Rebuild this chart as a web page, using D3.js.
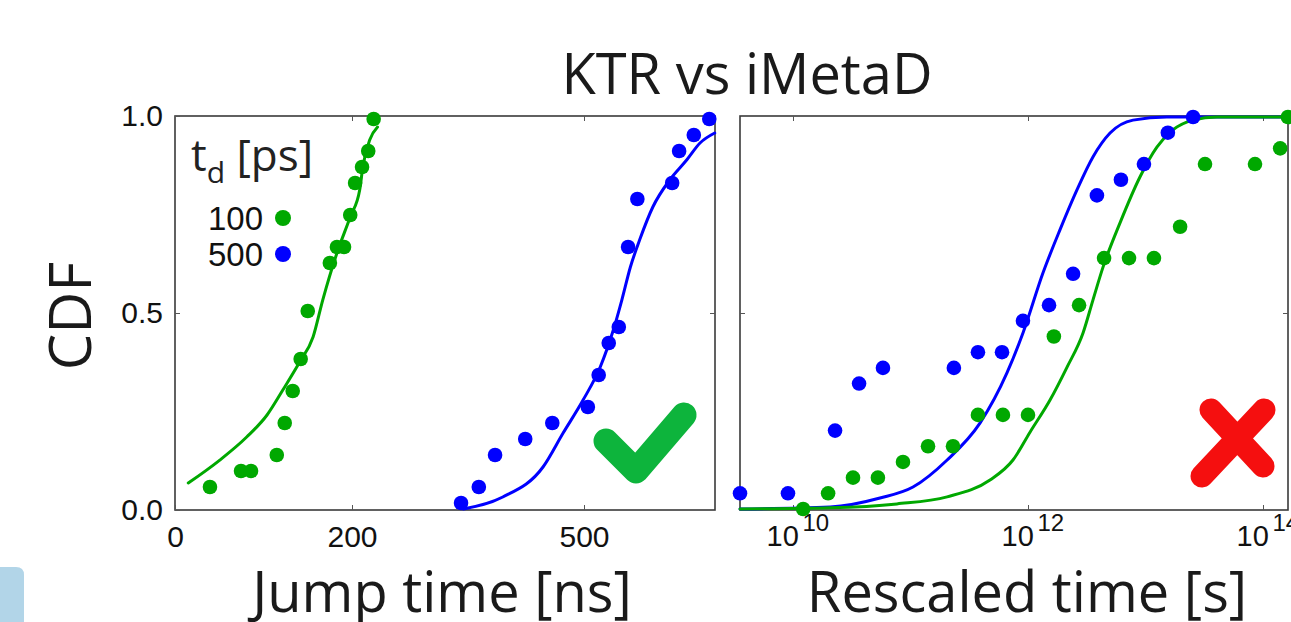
<!DOCTYPE html>
<html>
<head>
<meta charset="utf-8">
<script src="https://cdn.jsdelivr.net/npm/d3@7"></script>
<style>
  body { margin: 0; background: #fff; }
  svg { display: block; }
  .tick text { fill: #111; }
</style>
</head>
<body>
<svg width="1291" height="622"></svg>
<script>
// ---- left panel: jump time [ns] ----
var jumpX100 = [39.5, 74.6, 85.9, 115, 124, 133, 142, 150, 175, 183, 191, 198, 204, 213, 221, 228];
var jumpY100 = [0.08, 0.12, 0.12, 0.16, 0.24, 0.32, 0.40, 0.52, 0.64, 0.68, 0.68, 0.76, 0.84, 0.88, 0.92, 1.0];
var jumpX500 = [341, 364, 385, 424, 459, 505, 519, 532, 545, 557, 569, 614, 623, 642, 662];
var jumpY500 = [0.04, 0.08, 0.16, 0.20, 0.24, 0.28, 0.36, 0.44, 0.48, 0.68, 0.80, 0.84, 0.92, 0.96, 1.0];

var fitJumpX100 = [15, 51, 81, 104, 122, 141, 156, 167, 183, 198, 210, 214, 223, 233];
var fitJumpY100 = [0.09, 0.148, 0.205, 0.26, 0.323, 0.393, 0.455, 0.548, 0.665, 0.755, 0.823, 0.88, 0.948, 0.98];
var fitJumpX500 = [344, 395, 447, 473, 499, 521, 538, 549, 560, 572, 589, 611, 633, 650, 669];
var fitJumpY500 = [0.025, 0.055, 0.13, 0.215, 0.298, 0.38, 0.473, 0.548, 0.63, 0.698, 0.78, 0.848, 0.898, 0.94, 0.965];

// ---- right panel: rescaled time [s] ----
var resX100 = [1.22e10, 1.99e10, 3.24e10, 5.28e10, 8.63e10, 1.41e11, 2.30e11, 3.75e11, 6.12e11, 1.0e12,
               1.66e12, 2.72e12, 4.44e12, 7.24e12, 1.18e13, 1.97e13, 3.21e13, 8.55e13, 1.40e14, 1.63e14];
var resY100 = [0, 0.04, 0.08, 0.08, 0.12, 0.16, 0.16, 0.24, 0.24, 0.24,
               0.44, 0.52, 0.64, 0.64, 0.64, 0.72, 0.88, 0.88, 0.92, 1.0];
var resX500 = [3.54e9, 9.06e9, 2.28e10, 3.65e10, 5.83e10, 2.34e11, 3.75e11, 6.01e11, 9.06e11, 1.51e12,
               2.42e12, 3.86e12, 6.18e12, 9.70e12, 1.55e13, 2.54e13];
var resY500 = [0.04, 0.04, 0.20, 0.32, 0.36, 0.36, 0.40, 0.40, 0.48, 0.52,
               0.60, 0.80, 0.84, 0.88, 0.96, 1.0];

var fitResX100 = [3.54e9, 2.07e10, 7.67e10, 2.05e11, 4.75e11, 7.45e11, 1.04e12, 1.54e12, 2.15e12, 2.94e12,
                  3.57e12, 4.35e12, 6.07e12, 8.97e12, 1.25e13, 1.71e13, 2.54e13, 4.06e13, 1.63e14];
var fitResY100 = [0, 0.003, 0.013, 0.031, 0.074, 0.125, 0.196, 0.278, 0.362, 0.449,
                  0.533, 0.617, 0.730, 0.847, 0.923, 0.967, 0.992, 1.0, 1.0];
var fitResX500 = [3.54e9, 2.07e10, 5.50e10, 1.05e11, 2.05e11, 3.90e11, 6.62e11, 9.06e11, 1.34e12, 1.87e12,
                  2.61e12, 3.57e12, 4.99e12, 7.83e12, 1.52e13, 1.63e14];
var fitResY500 = [0, 0.005, 0.028, 0.056, 0.125, 0.219, 0.347, 0.449, 0.602, 0.712,
                  0.814, 0.898, 0.959, 0.992, 1.0, 1.0];

var yTicks = [0, 0.5, 1];
var jumpTicks = [0, 200, 500];
var resTicks = [1e10, 1e12, 1e14];
var legendLabels = ["100", "500"];

var GREEN = "#00a800", BLUE = "#0000ff";

var svg = d3.select("svg");

var xJump = d3.scaleLinear().domain([0, 200, 500]).range([175, 352, 584]),
    xRes  = d3.scaleLog().domain([1e10, 1e14]).range([793, 1263]),
    yJump = d3.scaleLinear().domain([0, 1]).range([519, 119]),
    yRes  = d3.scaleLinear().domain([0, 1]).range([509, 117]),
    yFrame = d3.scaleLinear().domain([0, 1]).range([510, 116]);

var panels = [
  {x0: 175, x1: 715},
  {x0: 740, x1: 1288}
];

// light blue tab bottom-left
svg.append("path")
  .attr("d", "M0,567 H16 Q24,567 24,575 V622 H0 Z")
  .attr("fill", "#b2d5e8");

// frames
panels.forEach(function(p) {
  svg.append("rect")
    .attr("x", p.x0).attr("y", 116)
    .attr("width", p.x1 - p.x0).attr("height", 394)
    .attr("fill", "none").attr("stroke", "#3a3a3a").attr("stroke-width", 1.6);
});

function styleAxis(g) {
  g.select(".domain").remove();
  g.selectAll(".tick line").attr("stroke", "#555");
  g.selectAll(".tick text")
    .style("font-family", "'Liberation Sans', Arial, sans-serif")
    .style("font-size", "30px");
}

// left panel axes
svg.append("g").attr("transform", "translate(0,510)")
  .call(d3.axisBottom(xJump).tickValues(jumpTicks).tickSize(-5).tickPadding(16))
  .call(styleAxis);
svg.append("g").attr("transform", "translate(0,116)")
  .call(d3.axisTop(xJump).tickValues([200, 500]).tickSize(-5).tickFormat(""))
  .call(styleAxis);
svg.append("g").attr("transform", "translate(175,0)")
  .call(d3.axisLeft(yFrame).tickValues(yTicks).tickSize(-5).tickPadding(12).tickFormat(d3.format(".1f")))
  .call(styleAxis);
svg.append("g").attr("transform", "translate(715,0)")
  .call(d3.axisRight(yFrame).tickValues([0.5]).tickSize(-5).tickFormat(""))
  .call(styleAxis);

// right panel axes
var resAxis = svg.append("g").attr("transform", "translate(0,510)")
  .call(d3.axisBottom(xRes).tickValues(resTicks).tickSize(-5).tickFormat(""))
  .call(styleAxis);
resAxis.selectAll(".tick").each(function(d) {
  var t = d3.select(this);
  t.select("text").remove();
  t.append("text").attr("x", -27).attr("y", 36)
    .attr("text-anchor", "start").attr("fill", "#111")
    .style("font-family", "'Liberation Sans', Arial, sans-serif").style("font-size", "29px")
    .text("10");
  t.append("text").attr("x", 9).attr("y", 21)
    .attr("text-anchor", "start").attr("fill", "#111")
    .style("font-family", "'Liberation Sans', Arial, sans-serif").style("font-size", "24px")
    .text(Math.round(Math.log10(d)));
});
svg.append("g").attr("transform", "translate(0,116)")
  .call(d3.axisTop(xRes).tickValues(resTicks).tickSize(-5).tickFormat(""))
  .call(styleAxis);
svg.append("g").attr("transform", "translate(740,0)")
  .call(d3.axisLeft(yRes).tickValues([0.5]).tickSize(-5).tickFormat(""))
  .call(styleAxis);
svg.append("g").attr("transform", "translate(1288,0)")
  .call(d3.axisRight(yRes).tickValues([0.5]).tickSize(-5).tickFormat(""))
  .call(styleAxis);

// series
function drawFit(xs, ys, xScale, yScale, color) {
  var pts = xs.map(function(v, i) { return [v, ys[i]]; });
  svg.append("path").datum(pts)
    .attr("fill", "none").attr("stroke", color).attr("stroke-width", 3)
    .attr("stroke-linecap", "round")
    .attr("d", d3.line()
      .x(function(d) { return xScale(d[0]); })
      .y(function(d) { return yScale(d[1]); })
      .curve(d3.curveMonotoneX));
}
function drawDots(xs, ys, xScale, yScale, color) {
  svg.append("g").selectAll("circle")
    .data(xs.map(function(v, i) { return [v, ys[i]]; }))
    .enter().append("circle")
      .attr("cx", function(d) { return xScale(d[0]); })
      .attr("cy", function(d) { return yScale(d[1]); })
      .attr("r", 7.3)
      .attr("fill", color);
}

drawFit(fitJumpX100, fitJumpY100, xJump, yJump, GREEN);
drawFit(fitJumpX500, fitJumpY500, xJump, yJump, BLUE);
drawDots(jumpX100, jumpY100, xJump, yJump, GREEN);
drawDots(jumpX500, jumpY500, xJump, yJump, BLUE);

drawFit(fitResX500, fitResY500, xRes, yRes, BLUE);
drawFit(fitResX100, fitResY100, xRes, yRes, GREEN);
drawDots(resX100, resY100, xRes, yRes, GREEN);
drawDots(resX500, resY500, xRes, yRes, BLUE);

// legend
var legend = svg.append("g");
var td = legend.append("text").attr("x", 191).attr("y", 171)
  .style("font-family", "'Open Sans', sans-serif").style("font-size", "44px").attr("fill", "#222");
td.append("tspan").text("t");
td.append("tspan").attr("dy", 12).style("font-size", "30px").text("d");
td.append("tspan").attr("dy", -12).text(" [ps]");
legend.selectAll(".lab").data(legendLabels).enter().append("text")
  .attr("x", 263).attr("y", function(d, i) { return 230 + i * 36; })
  .attr("text-anchor", "end")
  .style("font-family", "'Liberation Sans', Arial, sans-serif").style("font-size", "33px")
  .attr("fill", "#111")
  .text(function(d) { return d; });
legend.selectAll("circle").data([GREEN, BLUE]).enter().append("circle")
  .attr("cx", 283).attr("cy", function(d, i) { return 218 + i * 36; })
  .attr("r", 8).attr("fill", function(d) { return d; });

// check mark and cross
svg.append("path")
  .attr("d", "M606,441 L636,471 L684,415")
  .attr("fill", "none").attr("stroke", "#0db43c").attr("stroke-width", 25)
  .attr("stroke-linecap", "round").attr("stroke-linejoin", "round");
svg.append("path")
  .attr("d", "M1211,410 L1263,466 M1264,410 L1202,476")
  .attr("fill", "none").attr("stroke", "#f50f0f").attr("stroke-width", 23)
  .attr("stroke-linecap", "round");

// titles
var sans = "'Open Sans', sans-serif";
svg.append("text").attr("x", 747).attr("y", 94).attr("text-anchor", "middle")
  .style("font-family", sans).style("font-size", "56px").attr("fill", "#1a1a1a")
  .text("KTR vs iMetaD");
svg.append("text").attr("transform", "translate(91,316) rotate(-90)").attr("text-anchor", "middle")
  .style("font-family", sans).style("font-size", "58px").attr("fill", "#1a1a1a")
  .text("CDF");
svg.append("text").attr("x", 442).attr("y", 612).attr("text-anchor", "middle")
  .style("font-family", sans).style("font-size", "56px").attr("fill", "#1a1a1a")
  .text("Jump time [ns]");
svg.append("text").attr("x", 1027).attr("y", 612).attr("text-anchor", "middle")
  .style("font-family", sans).style("font-size", "56px").attr("fill", "#1a1a1a")
  .text("Rescaled time [s]");
</script>
</body>
</html>
